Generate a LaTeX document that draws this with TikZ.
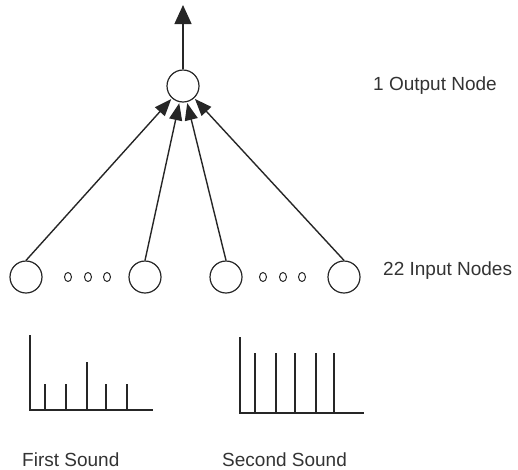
\documentclass[tikz,border=0pt]{standalone}
\usepackage{fontspec}
\setmainfont{Liberation Sans}
\usepackage{tikz}
\usetikzlibrary{arrows.meta}

\begin{document}
\begin{tikzpicture}[x=1pt,y=-1pt,>={Triangle[length=17pt,width=13pt]},
    unit/.style={circle,draw=black!85,line width=1.2pt,minimum size=32pt,inner sep=0pt},
    wire/.style={black!85,line width=1.4pt},
    spec/.style={black!85,line width=1.3pt},
    lbl/.style={anchor=base west,inner sep=0pt,font=\fontsize{19}{22}\selectfont,text=black!80}]
      \useasboundingbox (0,0) rectangle (518,469);

      % output unit
      \node[unit] (out) at (183,86) {};
      \coordinate (top) at (183,5);
      \draw[wire,->,>={Triangle[length=19pt,width=17pt]}] (out) -- (top);
      \node[lbl] (outlbl) at (373,90) {1 Output Node};

      % input units
      \node[unit] (in1) at (26,277) {};
      \node[unit] (in2) at (145,277) {};
      \node[unit] (in3) at (226,277) {};
      \node[unit] (in4) at (344,277) {};
      \foreach \x in {68,88,107,263,283,302}
        \draw[black!85,line width=1pt] (\x,277) ellipse (3.5pt and 4.5pt);
      \node[lbl] (inlbl) at (383,275) {22 Input Nodes};

      % weights
      \foreach \i in {1,...,4}
        \draw[wire,->,shorten >=1pt] (in\i.north) -- (out);

      % first sound
      \draw[spec] (30,335) -- (30,410) -- (153,410);
      \foreach \x/\h in {45/384,66/384,87/362,106/384,127/384}
        \draw[spec] (\x,410) -- (\x,\h);
      \node[lbl] (snd1) at (22,466) {First Sound};

      % second sound
      \draw[spec] (240,337) -- (240,413) -- (364,413);
      \foreach \x in {255,276,295,316,334}
        \draw[spec] (\x,413) -- (\x,353);
      \node[lbl] (snd2) at (222,466) {Second Sound};
\end{tikzpicture}
\end{document}
